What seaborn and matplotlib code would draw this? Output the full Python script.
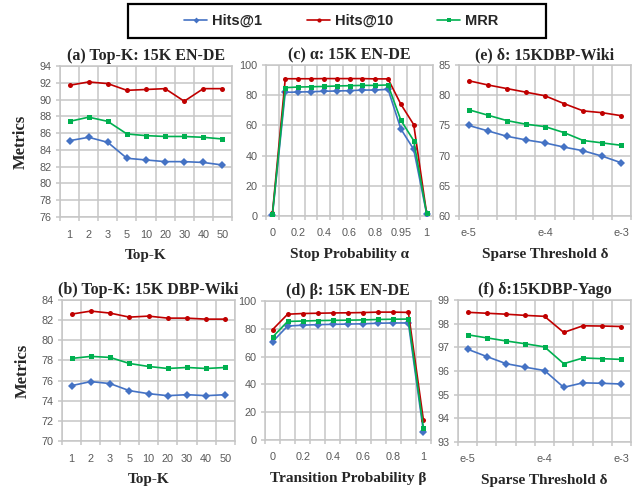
import numpy as np
import pandas as pd
import matplotlib
matplotlib.use("Agg")
import matplotlib.pyplot as plt
from matplotlib.patches import Rectangle
from matplotlib.lines import Line2D
import seaborn as sns

METRICS = ["Hits@1", "Hits@10", "MRR"]
COLORS = {"Hits@1": "#4472C4", "Hits@10": "#C00000", "MRR": "#00B050"}
MARKERS = {"Hits@1": "D", "Hits@10": "o", "MRR": "s"}

# x categories
topk_cats = ["1", "2", "3", "5", "10", "20", "30", "40", "50"]
alpha_cats = ["0", "0.1", "0.2", "0.3", "0.4", "0.5", "0.6", "0.7", "0.8",
              "0.9", "0.95", "0.99", "1"]
beta_cats = ["0", "0.1", "0.2", "0.3", "0.4", "0.5", "0.6", "0.7", "0.8",
             "0.9", "1"]
delta_cats = ["e-5", "", "", "", "e-4", "", "", "", "e-3"]

# (a) Top-K: 15K EN-DE
a_hits1 = [85.1, 85.5, 84.9, 83.0, 82.8, 82.6, 82.6, 82.5, 82.2]
a_hits10 = [91.7, 92.1, 91.9, 91.1, 91.2, 91.3, 89.8, 91.3, 91.3]
a_mrr = [87.4, 87.9, 87.4, 85.9, 85.7, 85.6, 85.6, 85.5, 85.3]

# (b) Top-K: 15K DBP-Wiki
b_hits1 = [75.5, 75.9, 75.7, 75.0, 74.7, 74.5, 74.6, 74.5, 74.6]
b_hits10 = [82.6, 82.9, 82.7, 82.3, 82.4, 82.2, 82.2, 82.1, 82.1]
b_mrr = [78.2, 78.4, 78.3, 77.7, 77.4, 77.2, 77.3, 77.2, 77.3]

# (c) alpha: 15K EN-DE
c_hits1 = [0.6, 81.9, 82.1, 82.3, 82.6, 82.8, 83.0, 83.4, 83.4, 83.9, 57.6, 44.1, 1.6]
c_hits10 = [1.8, 90.9, 90.9, 90.9, 91.0, 91.0, 91.0, 91.0, 90.8, 90.8, 74.0, 60.5, 2.0]
c_mrr = [1.0, 85.0, 85.4, 85.6, 85.8, 86.1, 86.3, 86.5, 86.5, 86.8, 63.4, 49.9, 1.8]

# (d) beta: 15K EN-DE
d_hits1 = [70.7, 82.0, 82.6, 83.0, 83.2, 83.4, 83.6, 84.0, 84.2, 84.2, 5.8]
d_hits10 = [79.4, 90.5, 91.0, 91.2, 91.4, 91.5, 91.7, 92.0, 92.0, 91.8, 14.2]
d_mrr = [74.0, 85.3, 85.6, 85.9, 86.1, 86.2, 86.4, 86.7, 86.9, 87.0, 8.6]

# (e) delta: 15KDBP-Wiki
e_hits1 = [75.0, 74.1, 73.2, 72.6, 72.1, 71.4, 70.8, 69.9, 68.8]
e_hits10 = [82.4, 81.7, 81.1, 80.5, 79.9, 78.6, 77.4, 77.1, 76.6]
e_mrr = [77.6, 76.7, 75.8, 75.2, 74.8, 73.8, 72.5, 72.1, 71.7]

# (f) delta: 15KDBP-Yago
f_hits1 = [96.92, 96.61, 96.31, 96.16, 96.02, 95.31, 95.50, 95.48, 95.45]
f_hits10 = [98.48, 98.44, 98.40, 98.35, 98.31, 97.63, 97.91, 97.90, 97.88]
f_mrr = [97.53, 97.40, 97.27, 97.15, 97.02, 96.31, 96.55, 96.52, 96.49]

W, H = 639, 487
GRID = "#c6c6c6"
TICK_GRAY = "#595959"
SERIF = ["Liberation Serif", "DejaVu Serif"]
SANS = ["Liberation Sans", "DejaVu Sans"]
NARROW = ["Liberation Sans Narrow", "Liberation Sans", "DejaVu Sans"]

panels = [
    # title, xlabel, cats, label step, series, ylim, ystep, box (l, r, t, b in px), ylabel
    ("(a) Top-K: 15K EN-DE", "Top-K", topk_cats, 1,
     (a_hits1, a_hits10, a_mrr), (76, 94), 2, (60, 232, 66, 217), True),
    ("(c) α: 15K EN-DE", "Stop Probability α", alpha_cats, 2,
     (c_hits1, c_hits10, c_mrr), (0, 100), 20, (266, 433, 65, 216), False),
    ("(e) δ: 15KDBP-Wiki", "Sparse Threshold δ", delta_cats, 1,
     (e_hits1, e_hits10, e_mrr), (60, 85), 5, (459, 631, 65, 216), False),
    ("(b) Top-K: 15K DBP-Wiki", "Top-K", topk_cats, 1,
     (b_hits1, b_hits10, b_mrr), (70, 84), 2, (62, 235, 300, 441), True),
    ("(d) β: 15K EN-DE", "Transition Probability β", beta_cats, 2,
     (d_hits1, d_hits10, d_mrr), (0, 100), 20, (265, 431, 301, 440), False),
    ("(f) δ:15KDBP-Yago", "Sparse Threshold δ", delta_cats, 1,
     (f_hits1, f_hits10, f_mrr), (93, 99), 1, (458, 631, 300, 442), False),
]

sns.set_theme(style="white")
plt.rcParams["font.family"] = SANS

fig = plt.figure(figsize=(W / 100, H / 100), dpi=100)


def draw_panel(spec):
    title, xlabel, cats, step, series, ylim, ystep, box, ylab = spec
    l, r, t, b = box
    ax = fig.add_axes([l / W, 1 - b / H, (r - l) / W, (b - t) / H])
    n = len(cats)
    rows = []
    for name, vals in zip(METRICS, series):
        for i, v in enumerate(vals):
            rows.append({"pos": i, "value": v, "metric": name})
    df = pd.DataFrame(rows)
    sns.lineplot(data=df, x="pos", y="value", hue="metric", style="metric",
                 hue_order=METRICS, style_order=METRICS, palette=COLORS,
                 markers=MARKERS, dashes=False, linewidth=1.2, markersize=3.6,
                 markeredgewidth=0, legend=False, ax=ax, zorder=3)

    ax.set_xlim(-0.5, n - 0.5)
    ax.set_xticks(range(0, n, step))
    ax.set_xticklabels([cats[i] for i in range(0, n, step)])
    ax.set_xticks(np.arange(-0.5, n, 1), minor=True)
    ax.set_ylim(*ylim)
    ax.set_yticks(np.arange(ylim[0], ylim[1] + ystep / 2, ystep))

    ax.grid(which="minor", axis="x", color=GRID, linewidth=1.1)
    ax.grid(which="major", axis="y", color=GRID, linewidth=1.1)
    ax.grid(which="major", axis="x", visible=False)
    ax.tick_params(axis="x", which="major", length=0, pad=9)
    ax.tick_params(axis="x", which="minor", length=3, color=GRID, width=1.1,
                   direction="out", bottom=True)
    ax.tick_params(axis="y", length=3, color=GRID, width=1.1, pad=3,
                   direction="out", left=True)
    ax.tick_params(labelsize=7.8, labelcolor=TICK_GRAY)
    for sp in ax.spines.values():
        sp.set_color(GRID)
        sp.set_linewidth(1.1)

    ax.set_title(title, fontsize=11.5, fontweight="bold", family=SERIF, pad=4)
    ax.set_xlabel(xlabel, fontsize=11, fontweight="bold", family=SERIF,
                  labelpad=7)
    if ylab:
        ax.set_ylabel("Metrics", fontsize=12, fontweight="bold", family=SERIF,
                      labelpad=8)
    else:
        ax.set_ylabel("")
    return ax


for spec in panels:
    draw_panel(spec)

# legend box on top, one entry per metric placed where the reference has it
fig.add_artist(Rectangle((128 / W, 1 - 38 / H), 418 / W, 34 / H,
                         transform=fig.transFigure, fill=False,
                         edgecolor="black", linewidth=1.6))
entry_x = {"Hits@1": 184, "Hits@10": 307, "MRR": 437}
for m in METRICS:
    h = Line2D([], [], color=COLORS[m], marker=MARKERS[m], markersize=3,
               markeredgewidth=0, linewidth=1.2)
    fig.legend([h], [m], loc="center left",
               bbox_to_anchor=(entry_x[m] / W, 1 - 21 / H),
               frameon=False, borderpad=0, borderaxespad=0,
               handlelength=1.6, handletextpad=0.35,
               prop={"family": NARROW, "weight": "bold", "size": 10.5})

fig.savefig("out.png", dpi=100)
